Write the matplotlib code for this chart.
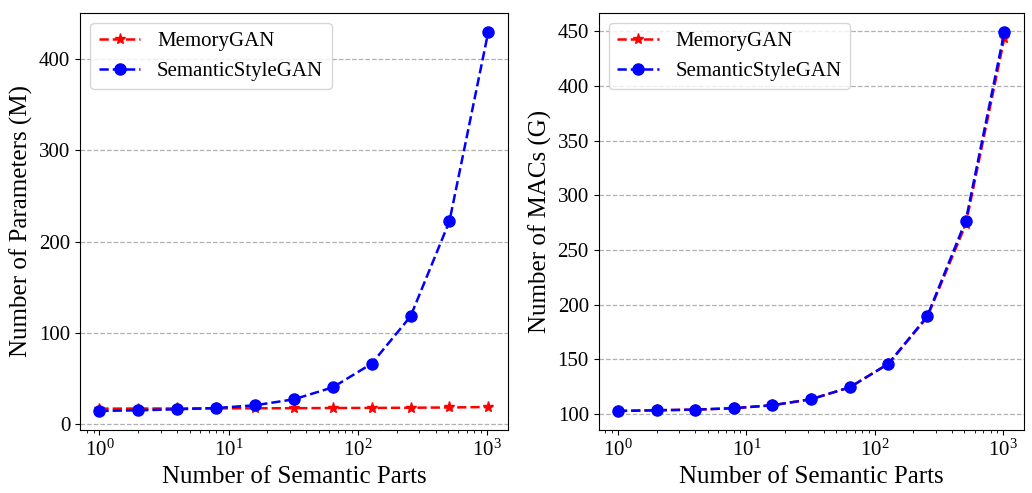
import matplotlib.pyplot as plt

plt.rcParams['font.family'] = ['Liberation Serif', 'DejaVu Serif']
plt.rcParams['mathtext.fontset'] = 'stix'

# Semantic parts (x axis, log scale)
parts = [1, 2, 4, 8, 16, 32, 64, 128, 256, 512, 1024]

# Number of parameters (M)
params_memory = [17.1, 17.2, 17.3, 17.4, 17.5, 17.6, 17.8, 17.9, 18.1, 18.4, 18.9]
params_semantic = [14.6, 15.3, 16.4, 17.8, 20.8, 27.3, 40.4, 66.3, 118.0, 222.0, 429.5]

# Number of MACs (G)
macs_memory = [103.0, 103.6, 104.2, 105.5, 108.2, 113.7, 124.6, 146.0, 188.5, 273.5, 444.0]
macs_semantic = [103.0, 103.6, 104.2, 105.5, 108.2, 113.7, 124.6, 146.2, 189.3, 276.8, 449.4]

labels = ["MemoryGAN", "SemanticStyleGAN"]

fig = plt.figure(figsize=(10.32, 4.93), dpi=100)
ax1 = fig.add_axes([0.0775, 0.128, 0.4145, 0.846])
ax2 = fig.add_axes([0.580, 0.128, 0.412, 0.846])

panels = [
    (ax1, params_memory, params_semantic, "Number of Parameters (M)", [0, 100, 200, 300, 400]),
    (ax2, macs_memory, macs_semantic, "Number of MACs (G)", list(range(100, 451, 50))),
]

for ax, mem, sem, ylabel, yticks in panels:
    ax.plot(parts, mem, 'r--', marker='*', markersize=8, lw=1.8, label=labels[0])
    ax.plot(parts, sem, 'b--', marker='o', markersize=8, lw=1.8, label=labels[1])
    ax.set_xscale('log')
    ax.set_yticks(yticks)
    ax.grid(axis='y', linestyle='--', color='#b0b0b0', lw=0.9)
    ax.set_axisbelow(True)
    ax.set_xlabel("Number of Semantic Parts", fontsize=18)
    ax.set_ylabel(ylabel, fontsize=18)
    ax.tick_params(labelsize=15)
    ax.legend(loc='upper left', fontsize=15)

fig.savefig("out.png", dpi=100)
